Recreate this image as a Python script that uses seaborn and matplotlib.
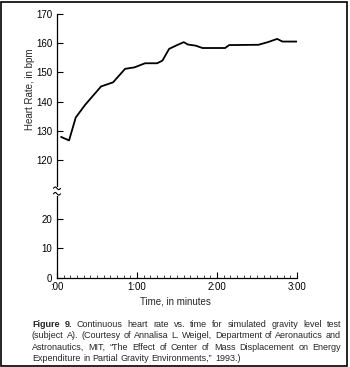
import numpy as np
import pandas as pd
import seaborn as sns
import matplotlib.pyplot as plt
from matplotlib.patches import Rectangle
from matplotlib.lines import Line2D

# heart rate (time in seconds, bpm)
time_s = [3, 9, 14, 21, 33, 42, 51, 58, 66, 75, 79, 84, 90, 95, 98, 104,
          109, 126, 129, 151, 158, 165, 169, 180]
heart_rate = [128, 126.8, 134.6, 138.9, 145.2, 146.6, 151.2, 151.7, 153.1,
              153.1, 154, 158, 159.3, 160.3, 159.5, 159.1, 158.3, 158.3,
              159.3, 159.4, 160.3, 161.4, 160.5, 160.5]

y_ticks = [0, 10, 20, 120, 130, 140, 150, 160, 170]
x_ticks = [0, 60, 120, 180]
x_labels = [":00", "1:00", "2:00", "3:00"]

caption_lines = [
    "Continuous heart rate vs. time for simulated gravity level test",
    "(subject A). (Courtesy of Annalisa L. Weigel, Department of Aeronautics and",
    "Astronautics, MIT, \u201cThe Effect of Center of Mass Displacement on Energy",
    "Expenditure in Partial Gravity Environments,\u201d 1993.)",
]

# broken axis: values of 120 and up are shifted down by 80
shift = 80
def to_axis(v):
    return v - shift if v >= 100 else v

df = pd.DataFrame({"t": time_s, "hr": [to_axis(v) for v in heart_rate]})

sns.set_style("ticks")
plt.rcParams['font.family'] = ['Liberation Sans', 'DejaVu Sans']
FS = 7
CAP_FS = 6.5

fig = plt.figure(figsize=(3.5, 3.67), dpi=100)
ax = fig.add_axes([0.163, 0.2433, 0.686, 0.7194])

sns.lineplot(data=df, x="t", y="hr", ax=ax, color="black", linewidth=1.3)

ax.set_xlim(0, 180)
ax.set_ylim(0, 90)
ax.set_xticks(x_ticks)
ax.set_xticklabels(x_labels)
ax.set_xticks(np.arange(0, 181, 5), minor=True)
ax.set_yticks([to_axis(v) for v in y_ticks])
ax.set_yticklabels([str(v) for v in y_ticks])
ax.tick_params(axis="both", which="major", direction="in", length=4.5,
               width=0.8, labelsize=FS, color="black", labelcolor="black")
ax.tick_params(axis="x", which="minor", direction="in", length=2, width=0.6)
ax.tick_params(axis="x", pad=3)
ax.tick_params(axis="y", pad=3.5)
for s in ["top", "right"]:
    ax.spines[s].set_visible(False)
for s in ["left", "bottom"]:
    ax.spines[s].set_color("black")
    ax.spines[s].set_linewidth(0.9)
ax.set_xlabel("")
ax.set_ylabel("")

# axis break mark: white gap in the spine plus two small waves (figure px)
W, H = 350, 367
def fx(px):
    return px / W
def fy(py):
    return 1 - py / H
fig.add_artist(Rectangle((fx(55), fy(195.5)), 4 / W, 9 / H,
                         transform=fig.transFigure, facecolor="white",
                         edgecolor="none", zorder=5))
s = np.linspace(0, 1, 30)
for yc in (188.3, 193.8):
    xs = 53.5 + 7 * s
    ys = yc - 1.3 * np.sin(2 * np.pi * s)
    fig.add_artist(Line2D(fx(xs), fy(ys), transform=fig.transFigure,
                          color="black", linewidth=0.8, zorder=6))

fig.text(30 / W, fy(89.5), "Heart Rate, in bpm", rotation=90,
         ha="center", va="center", fontsize=FS)
fig.text(175 / W, fy(301.7), "Time, in minutes", ha="center",
         va="center", fontsize=FS)

# justified caption, word by word
fig.canvas.draw()
renderer = fig.canvas.get_renderer()
left_px, right_px = 32, 341
line_y = [324.3, 335.8, 347.0, 358.3]

def width_px(txt, weight="normal"):
    t = fig.text(0, 0, txt, fontsize=CAP_FS, fontweight=weight)
    w = t.get_window_extent(renderer).width
    t.remove()
    return w

space = width_px("a b") - width_px("ab")
for i, line in enumerate(caption_lines):
    words = [(w, "normal") for w in line.split(" ")]
    if i == 0:
        words = [("Figure", "bold"), ("9.", "bold")] + words
    widths = [width_px(w, wt) for w, wt in words]
    if i < len(caption_lines) - 1:
        gap = (right_px - left_px - sum(widths)) / (len(words) - 1)
    else:
        gap = space
    x = left_px
    for j, ((w, wt), wd) in enumerate(zip(words, widths)):
        fig.text(fx(x), fy(line_y[i]), w, fontsize=CAP_FS, fontweight=wt,
                 ha="left", va="center")
        x += wd + gap

fig.add_artist(Rectangle((1 / W, 1 / H), 346 / W, 364 / H,
                         transform=fig.transFigure, fill=False,
                         edgecolor="black", linewidth=1.2))

fig.savefig("out.png", dpi=100)
